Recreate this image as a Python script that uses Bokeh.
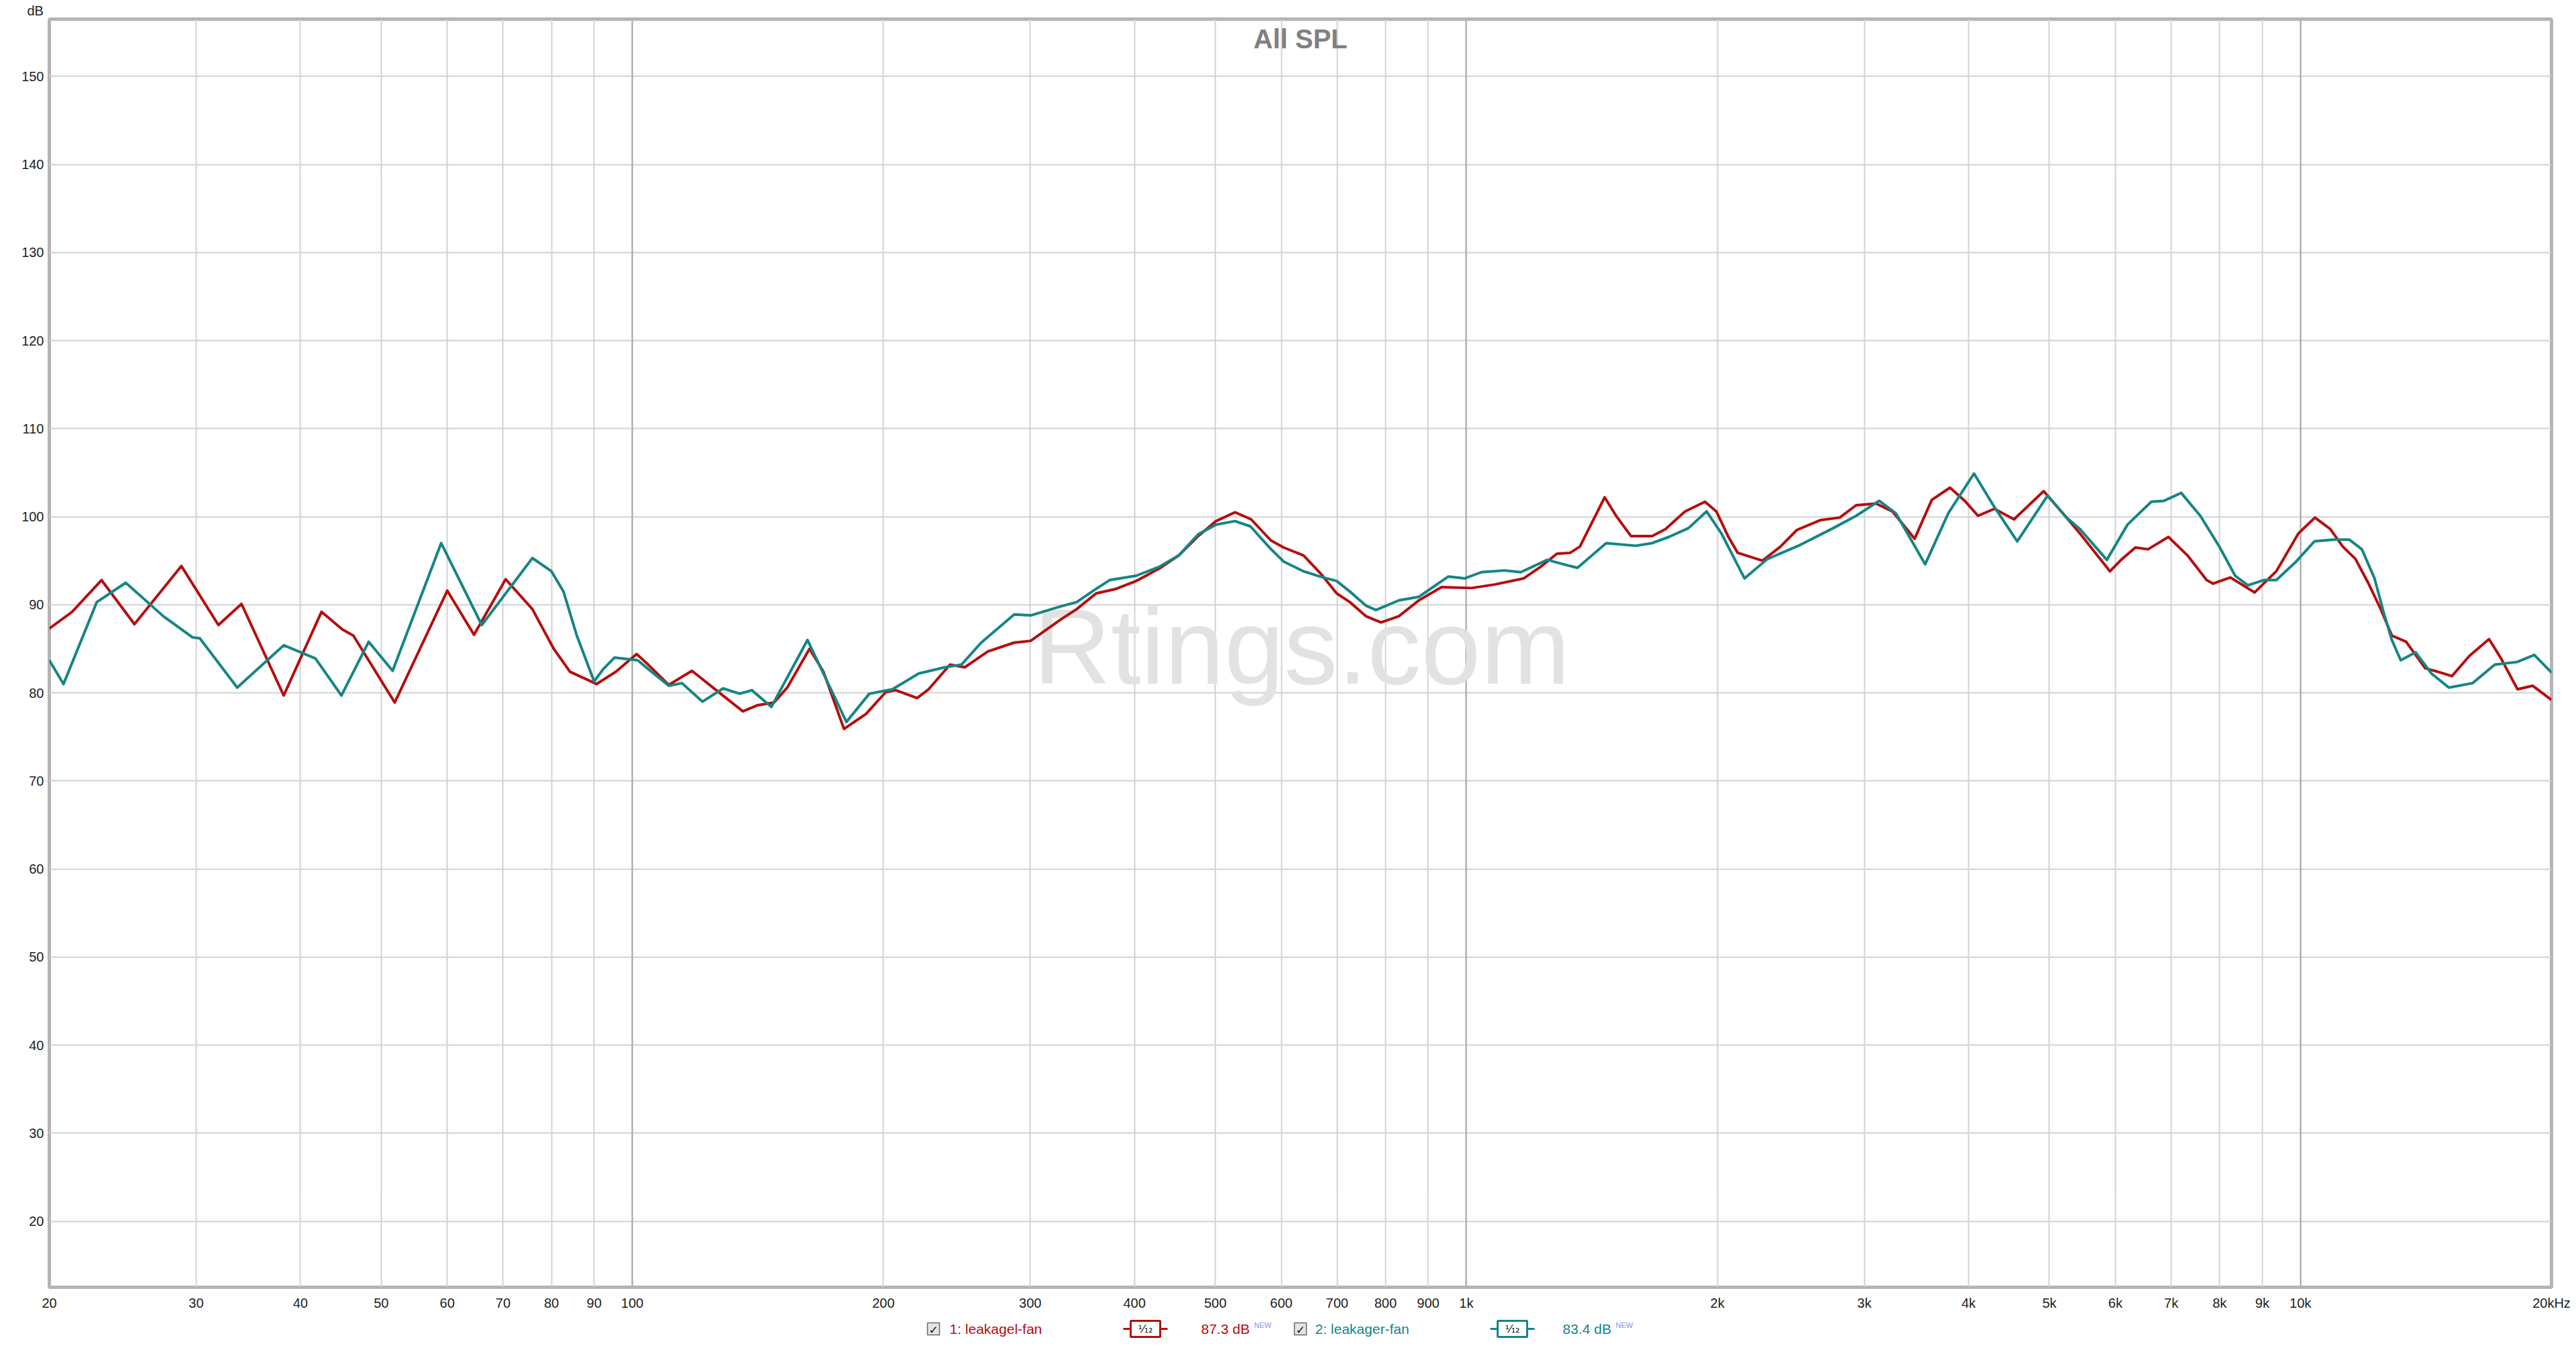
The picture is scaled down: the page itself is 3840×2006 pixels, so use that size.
from bokeh.plotting import figure
from bokeh.layouts import column
from bokeh.models import FixedTicker, Grid, Label, Range1d
from bokeh.core.properties import value
from bokeh.embed import file_html
from bokeh.resources import INLINE

# ---------------- data ----------------
red_freq = [20, 21.3, 23.1, 25.3, 28.8, 31.9, 34.0, 38.2, 42.4, 44.9, 46.3, 51.9, 60.0, 64.6, 70.5,
            75.9, 80.5, 84.2, 90.6, 95.6, 101.2, 104.5, 110.6, 117.9, 125.7, 135.7, 141.4, 147.9,
            153.4, 163.1, 169.5, 179.4, 190.6, 201.4, 207, 219.5, 226.6, 240.4, 250.4, 266.9, 287,
            300.3, 326, 341, 360, 380, 402, 428, 452, 477, 501, 528, 552, 583, 604, 638, 668, 699,
            725, 758, 790, 830, 877, 934, 1014, 1081, 1172, 1227, 1284, 1332, 1368, 1465, 1512,
            1575, 1670, 1733, 1829, 1932, 1994, 2059, 2115, 2265, 2380, 2491, 2655, 2803, 2933,
            3098, 3242, 3447, 3614, 3800, 3959, 4106, 4296, 4535, 4922, 5243, 5440, 5911, 6095,
            6341, 6566, 6946, 7322, 7719, 7855, 8242, 8813, 9355, 9944, 10409, 10856, 11242,
            11642, 12054, 12483, 12871, 13387, 14109, 14611, 15194, 15944, 16832, 17401, 18208,
            18991, 20000]
red_db = [87.3, 89.2, 92.8, 87.8, 94.4, 87.7, 90.1, 79.7, 89.2, 87.2, 86.5, 78.9, 91.6, 86.6, 92.9,
          89.5, 85.0, 82.4, 81.0, 82.4, 84.4, 83.2, 80.9, 82.5, 80.4, 77.9, 78.6, 78.9,
          80.6, 85.0, 82.4, 75.9, 77.6, 80.1, 80.3, 79.4, 80.4, 83.2, 82.9, 84.7, 85.7,
          85.9, 88.3, 89.5, 91.3, 91.8, 92.7, 94.1, 95.6, 97.8, 99.5, 100.5, 99.7, 97.3, 96.5, 95.6,
          93.6, 91.3, 90.3, 88.7, 88.0, 88.7, 90.5, 92.0, 91.9, 92.3, 93.0, 94.3, 95.8, 95.9, 96.6,
          102.2, 100.1, 97.8, 97.8, 98.6, 100.6, 101.7, 100.6, 97.8, 95.9, 95.0, 96.6, 98.5, 99.6,
          99.9, 101.3, 101.5, 100.6, 97.5, 101.9, 103.3, 101.8, 100.1, 100.9, 99.7, 102.9, 99.9,
          98.1, 93.8, 95.1, 96.5, 96.3, 97.7, 95.6, 92.8, 92.4, 93.1, 91.4, 93.8, 98.1, 99.9, 98.6,
          96.6, 95.2, 92.5, 89.5, 86.5, 85.8, 82.8, 82.4, 81.9, 84.2, 86.1, 83.9, 80.4, 80.8, 79.2]

teal_freq = [20, 20.8, 22.8, 24.7, 27.4, 29.7, 30.3, 33.6, 38.2, 41.7, 44.8, 48.3, 51.6, 59.0, 66.0,
             75.9, 80.0, 82.7, 85.8, 90.0, 92.3, 95.2, 101.5, 104.5, 110.6, 114.7, 121.4, 128.5,
             134.5, 139.1, 146.8, 162.2, 180.6, 192.4, 205.1, 220.5, 237.0, 248.1, 262.0, 287,
             300.6, 326, 341, 357, 373.5, 402, 428, 452, 477, 501, 528, 551, 582, 604, 638, 668,
             699, 725, 758, 779, 830, 877, 951, 996, 1042, 1111, 1162, 1250, 1332, 1359, 1471,
             1596, 1670, 1749, 1846, 1941, 2022, 2155, 2296, 2514, 2753, 2933, 3126, 3272, 3549,
             3783, 4061, 4296, 4576, 4976, 5243, 5440, 5860, 6204, 6625, 6861, 7195, 7585, 7995,
             8351, 8649, 9036, 9355, 9858, 10391, 10951, 11441, 11848, 12270, 12594, 12871,
             13190, 13742, 14357, 15063, 16084, 17101, 18179, 19073, 20000]
teal_db = [83.7, 81.0, 90.3, 92.5, 88.7, 86.3, 86.2, 80.6, 85.4, 83.9, 79.7, 85.8, 82.5, 97.0, 87.7,
           95.3, 93.8, 91.5, 86.5, 81.3, 82.7, 84.0, 83.7, 82.7, 80.8, 81.1, 79.0, 80.5,
           79.9, 80.3, 78.4, 86.0, 76.7, 79.9, 80.4, 82.2, 82.9, 83.2, 85.7, 88.9,
           88.8, 89.8, 90.3, 91.6, 92.8, 93.3, 94.3, 95.6, 98.0, 99.1, 99.5, 98.9, 96.4, 94.9, 93.8,
           93.2, 92.7, 91.5, 89.9, 89.4, 90.5, 90.9, 93.2, 93.0, 93.7, 93.9, 93.7, 95.1, 94.4, 94.2,
           97.0, 96.7, 97.0, 97.7, 98.7, 100.6, 98.1, 93.0, 95.2, 96.8, 98.7, 100.1, 101.8, 100.4,
           94.6, 100.4, 104.9, 101.1, 97.2, 102.4, 99.9, 98.6, 95.1, 99.1, 101.7, 101.8, 102.7,
           100.1, 96.6, 93.3, 92.2, 92.8, 92.8, 94.8, 97.2, 97.4, 97.4, 96.3, 93.0, 89.0, 86.0,
           83.7, 84.6, 82.2, 80.6, 81.1, 83.2, 83.5, 84.3, 82.3]

x_ticks = [20, 30, 40, 50, 60, 70, 80, 90, 100, 200, 300, 400, 500, 600, 700, 800, 900,
           1000, 2000, 3000, 4000, 5000, 6000, 7000, 8000, 9000, 10000, 20000]
x_labels = ["20", "30", "40", "50", "60", "70", "80", "90", "100", "200", "300", "400", "500",
            "600", "700", "800", "900", "1k", "2k", "3k", "4k", "5k", "6k", "7k", "8k", "9k",
            "10k", "20kHz"]
decade_lines = [100, 1000, 10000]
y_ticks = [20, 30, 40, 50, 60, 70, 80, 90, 100, 110, 120, 130, 140, 150]

series_names = ["1: leakagel-fan", "2: leakager-fan"]
series_levels = ["87.3 dB", "83.4 dB"]
filter_text = "\u00b9\u2044\u2081\u2082"

RED = "#b50e0e"
TEAL = "#168585"
FONT = "Liberation Sans"

# ---------------- main figure ----------------
W = 3840
ML, MR, MT, MB = 73, 37, 27, 45
H = 27 + 1891 + MB
FW = W - ML - MR
FH = H - MT - MB

p = figure(width=W, height=H, x_axis_type="log", x_range=(20, 20000), y_range=(12.5, 156.5),
           output_backend="svg", toolbar_location=None, title="dB",
           min_border_left=ML, min_border_right=MR, min_border_top=MT, min_border_bottom=MB)
p.background_fill_color = "white"
p.border_fill_color = "white"
p.outline_line_color = "#b4b4b4"
p.outline_line_width = 5

# "dB" unit label in the top-left corner (via the title, shifted left of the frame)
p.title.align = "left"
p.title.offset = -33
p.title.standoff = 4
p.title.text_font = FONT
p.title.text_font_size = "20px"
p.title.text_font_style = "normal"
p.title.text_color = "#1e1e1e"

for ax in (p.xaxis[0], p.yaxis[0]):
    ax.axis_line_color = None
    ax.major_tick_line_color = None
    ax.minor_tick_line_color = None
    ax.major_tick_out = 0
    ax.major_tick_in = 0
    ax.major_label_text_font = FONT
    ax.major_label_text_font_size = "20px"
    ax.major_label_text_color = "#1e1e1e"

p.xaxis.ticker = FixedTicker(ticks=x_ticks, minor_ticks=[])
p.xaxis.major_label_overrides = {float(t): l for t, l in zip(x_ticks, x_labels)}
p.xaxis.major_label_standoff = 12
p.yaxis.ticker = FixedTicker(ticks=y_ticks, minor_ticks=[])
p.yaxis.major_label_standoff = 8

p.xgrid.ticker = FixedTicker(ticks=x_ticks, minor_ticks=[])
p.ygrid.ticker = FixedTicker(ticks=y_ticks, minor_ticks=[])
for g in (p.xgrid[0], p.ygrid[0]):
    g.grid_line_color = "#d2d2d2"
    g.grid_line_width = 2
p.add_layout(Grid(dimension=0, ticker=FixedTicker(ticks=decade_lines, minor_ticks=[]),
                  grid_line_color="#a8a8a8", grid_line_width=2))

# watermark
p.add_layout(Label(x=FW / 2 + 2, y=955, x_units="screen", y_units="screen", text="Rtings.com",
                   text_font=FONT, text_font_size="160px", text_color="#e2e2e2",
                   text_align="center", text_baseline="alphabetic", level="underlay"))

# curves
p.line(red_freq, red_db, line_color=RED, line_width=4, line_join="round")
p.line(teal_freq, teal_db, line_color=TEAL, line_width=4, line_join="round")

# chart title inside the frame
p.add_layout(Label(x=FW / 2, y=FH - 30, x_units="screen", y_units="screen", text="All SPL",
                   text_font=FONT, text_font_size="40px", text_font_style="bold",
                   text_color="#808080", text_align="center", text_baseline="middle"))

# ---------------- legend strip (pixel coordinates; frame aligned with main frame) ----------------
LH = 2006 - H
lg = figure(width=W, height=LH, x_range=Range1d(ML, W - MR), y_range=Range1d(LH, 0),
            output_backend="svg", toolbar_location=None, min_border=0,
            x_axis_location=None, y_axis_location=None)
lg.grid.visible = False
lg.outline_line_color = None
lg.background_fill_color = "white"
lg.border_fill_color = "white"

LY = 17
box_x = [1391, 1938]
name_x = [1415, 1960]
icon_x = [1707, 2254]
level_x = [1790, 2329]
colors = [RED, TEAL]

lg.rect(x=box_x, y=[LY, LY], width=18, height=18, fill_color="#e4e4e4",
        line_color="#6a6a6a", line_width=1.5)
lg.text(x=box_x, y=[LY + 1, LY + 1], text=["\u2713", "\u2713"], text_font=value("DejaVu Sans"),
        text_font_size="17px", text_font_style="bold", text_color="#111111",
        text_align="center", text_baseline="middle")
lg.text(x=name_x, y=[LY, LY], text=series_names, text_font=value(FONT),
        text_font_size="21px", text_color=colors, text_align="left", text_baseline="middle")
lg.segment(x0=[icon_x[0] - 33, icon_x[0] + 22, icon_x[1] - 33, icon_x[1] + 22],
           y0=[LY] * 4,
           x1=[icon_x[0] - 22, icon_x[0] + 33, icon_x[1] - 22, icon_x[1] + 33],
           y1=[LY] * 4, line_color=[RED, RED, TEAL, TEAL], line_width=3)
lg.rect(x=icon_x, y=[LY, LY], width=44, height=24, fill_color="white",
        line_color=colors, line_width=3)
lg.text(x=icon_x, y=[LY, LY], text=[filter_text, filter_text], text_font=value("DejaVu Sans"),
        text_font_size="16px", text_color="#111111", text_align="center",
        text_baseline="middle")
lg.text(x=level_x, y=[LY, LY], text=series_levels, text_font=value(FONT),
        text_font_size="21px", text_color=colors, text_align="left", text_baseline="middle")
lg.text(x=[level_x[0] + 79, level_x[1] + 79], y=[LY - 6, LY - 6], text=["NEW", "NEW"],
        text_font=value(FONT), text_font_size="11px", text_color="#8c8cf0",
        text_align="left", text_baseline="middle")

layout = column(p, lg, spacing=0)
open("out.html", "w").write(file_html(layout, INLINE))
